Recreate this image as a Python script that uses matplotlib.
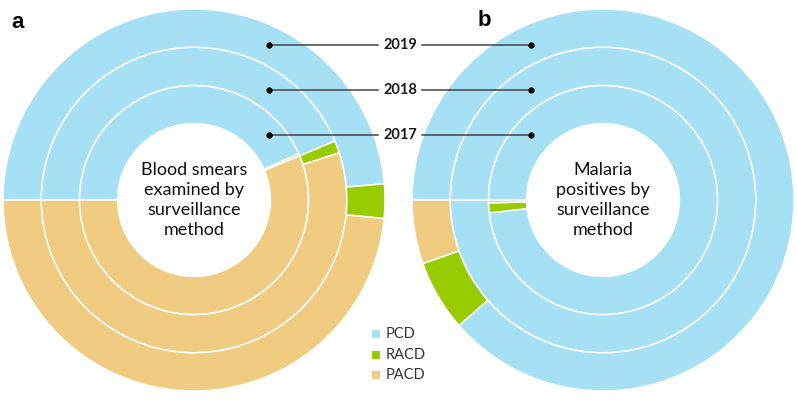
import matplotlib
matplotlib.use("Agg")
import matplotlib.pyplot as plt

years = ["2017", "2018", "2019"]
categories = ["PCD", "RACD", "PACD"]
colors = ["#A6E0F5", "#99CC00", "#F0CC82"]

# percentage share per year (inner -> outer ring)
smears_pcd = [43.4, 43.7, 48.65]
smears_racd = [0.3, 1.3, 2.9]
smears_pacd = [56.3, 55.0, 48.45]

positives_pcd = [98.2, 100.0, 88.6]
positives_racd = [1.4, 0.0, 6.0]
positives_pacd = [0.4, 0.0, 5.4]

plt.rcParams["font.family"] = ["Lato", "DejaVu Sans"]

W, H = 797, 400
fig = plt.figure(figsize=(W / 100, H / 100), dpi=100)


def donut(box, pcd, racd, pacd, centre_text):
    ax = fig.add_axes([box[0] / W, 1 - (box[1] + box[3]) / H, box[2] / W, box[3] / H])
    radii = [0.6, 0.8, 1.0]
    for i, r in enumerate(radii):
        ax.pie([pcd[i], racd[i], pacd[i]], radius=r, colors=colors,
               startangle=180, counterclock=False,
               wedgeprops=dict(width=0.2, edgecolor="white", linewidth=1.1))
    ax.set_xlim(-1, 1)
    ax.set_ylim(-1, 1)
    ax.set_aspect("equal")
    ax.axis("off")
    ax.text(0, 0, centre_text, ha="center", va="center", fontsize=13,
            color="#111111", linespacing=1.3)
    return ax


donut((3, 9, 382, 382), smears_pcd, smears_racd, smears_pacd,
      "Blood smears\nexamined by\nsurveillance\nmethod")
donut((412, 9, 382, 382), positives_pcd, positives_racd, positives_pacd,
      "Malaria\npositives by\nsurveillance\nmethod")

# overlay in pixel coordinates for annotations
ov = fig.add_axes([0, 0, 1, 1])
ov.set_xlim(0, W)
ov.set_ylim(H, 0)
ov.axis("off")
ov.patch.set_alpha(0)

label_y = [135, 90, 45]
for yr, y in zip(years, label_y):
    ov.plot([269, 378], [y, y], color="#444444", lw=1.1)
    ov.plot([422, 531], [y, y], color="#444444", lw=1.1)
    ov.plot([269, 531], [y, y], "o", color="black", ms=3.5, ls="none")
    ov.text(400, y, yr, ha="center", va="center", fontsize=10.5,
            fontweight="bold", color="#1a1a1a")

ov.text(11, 23, "a", fontsize=16, fontweight="bold", ha="left", va="center",
        family="Liberation Sans")
ov.text(478, 21, "b", fontsize=16, fontweight="bold", ha="left", va="center",
        family="Liberation Sans")

leg_y = [334, 355, 375]
for cat, col, y in zip(categories, colors, leg_y):
    ov.add_patch(plt.Rectangle((372, y - 4), 8, 8, color=col, lw=0))
    ov.text(386, y, cat, ha="left", va="center", fontsize=10.5, color="#333333")

fig.savefig("out.png", dpi=100)
